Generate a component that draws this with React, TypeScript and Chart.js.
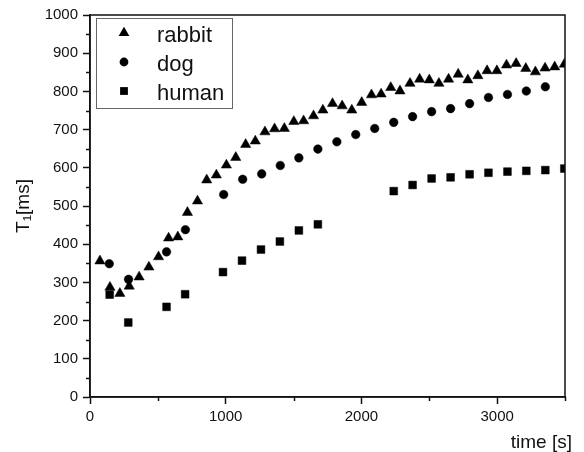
import React, { useEffect, useRef } from 'react';
import { Chart, registerables } from 'chart.js';

Chart.register(...registerables);

const FONT = "'Liberation Sans', Arial, Helvetica, sans-serif";

const rabbitTime = [73, 147, 220, 289, 362, 434, 505, 579, 647, 718, 792, 860, 931, 1005, 1074, 1147, 1218, 1289, 1360, 1432, 1502, 1574, 1647, 1716, 1787, 1858, 1929, 2002, 2074, 2145, 2216, 2284, 2358, 2429, 2500, 2571, 2642, 2713, 2784, 2858, 2926, 2998, 3069, 3140, 3211, 3282, 3353, 3424, 3495];
const rabbitT1 = [356, 287, 271, 290, 314, 340, 367, 416, 419, 483, 513, 568, 581, 607, 627, 661, 670, 694, 702, 703, 721, 723, 736, 751, 768, 762, 751, 771, 791, 793, 810, 801, 821, 832, 830, 821, 832, 845, 830, 841, 854, 854, 869, 873, 860, 851, 861, 864, 871];

const dogTime = [142, 284, 564, 703, 985, 1125, 1265, 1402, 1539, 1679, 1819, 1958, 2098, 2238, 2377, 2517, 2657, 2797, 2936, 3076, 3215, 3355];
const dogT1 = [349, 308, 380, 438, 530, 570, 584, 606, 626, 649, 668, 687, 703, 719, 734, 747, 755, 768, 784, 792, 801, 812];

const humanTime = [145, 282, 564, 701, 980, 1120, 1260, 1399, 1539, 1679, 2238, 2377, 2517, 2657, 2797, 2936, 3076, 3215, 3355, 3495];
const humanT1 = [268, 195, 236, 269, 327, 357, 386, 407, 436, 452, 539, 555, 572, 575, 583, 587, 590, 592, 594, 598];

const seriesLabels = ['rabbit', 'dog', 'human'];
const xTickLabels = [0, 1000, 2000, 3000];
const yTickLabels = [0, 100, 200, 300, 400, 500, 600, 700, 800, 900, 1000];
const xMinorTicks = [500, 1500, 2500, 3500];
const yMinorTicks = [50, 150, 250, 350, 450, 550, 650, 750, 850, 950];

const INK = '#111';

function drawMarker(ctx: CanvasRenderingContext2D, style: string, x: number, y: number) {
  ctx.beginPath();
  if (style === 'triangle') {
    const r = 6.2;
    ctx.moveTo(x, y - r);
    ctx.lineTo(x + r * Math.sin((2 * Math.PI) / 3), y + r / 2);
    ctx.lineTo(x - r * Math.sin((2 * Math.PI) / 3), y + r / 2);
    ctx.closePath();
  } else if (style === 'circle') {
    ctx.arc(x, y, 4.4, 0, Math.PI * 2);
  } else {
    ctx.rect(x - 3.9, y - 3.9, 7.8, 7.8);
  }
  ctx.fillStyle = '#000';
  ctx.fill();
}

const framePlugin = {
  id: 'frame',
  afterDraw(chart: any) {
    const { ctx, chartArea, scales } = chart;
    ctx.save();
    ctx.strokeStyle = INK;
    ctx.lineWidth = 1.5;
    ctx.strokeRect(chartArea.left, chartArea.top, chartArea.right - chartArea.left, chartArea.bottom - chartArea.top);
    // minor ticks
    ctx.beginPath();
    for (const v of xMinorTicks) {
      const px = Math.round(scales.x.getPixelForValue(v)) + 0.5;
      ctx.moveTo(px, chartArea.bottom);
      ctx.lineTo(px, chartArea.bottom + 4);
    }
    for (const v of yMinorTicks) {
      const py = Math.round(scales.y.getPixelForValue(v)) + 0.5;
      ctx.moveTo(chartArea.left, py);
      ctx.lineTo(chartArea.left - 4, py);
    }
    ctx.stroke();

    // legend
    const bx = chartArea.left + 6;
    const by = chartArea.top + 3;
    ctx.strokeStyle = '#666';
    ctx.lineWidth = 1;
    ctx.strokeRect(bx + 0.5, by + 0.5, 136, 90);
    chart.data.datasets.forEach((ds: any, i: number) => {
      const cy = by + 15 + i * 29;
      drawMarker(ctx, ds.pointStyle, bx + 28, cy);
      ctx.fillStyle = INK;
      ctx.font = `22px ${FONT}`;
      ctx.textAlign = 'left';
      ctx.textBaseline = 'alphabetic';
      ctx.fillText(seriesLabels[i], bx + 61, cy + 9);
    });
    ctx.restore();
  },
};

export default function App() {
  const ref = useRef<HTMLCanvasElement>(null);

  useEffect(() => {
    const canvas = ref.current;
    if (!canvas) return;
    const mk = (xs: number[], ys: number[]) => xs.map((x, i) => ({ x, y: ys[i] }));
    const chart = new Chart(canvas, {
      type: 'scatter',
      data: {
        datasets: [
          {
            label: seriesLabels[0],
            data: mk(rabbitTime, rabbitT1),
            pointStyle: 'triangle',
            pointRadius: 5.9,
            backgroundColor: '#000',
            borderColor: '#000',
            borderWidth: 0.5,
            clip: 0,
          },
          {
            label: seriesLabels[1],
            data: mk(dogTime, dogT1),
            pointStyle: 'circle',
            pointRadius: 4.3,
            backgroundColor: '#000',
            borderColor: '#000',
            borderWidth: 0.5,
            clip: 0,
          },
          {
            label: seriesLabels[2],
            data: mk(humanTime, humanT1),
            pointStyle: 'rect',
            pointRadius: 5.5,
            backgroundColor: '#000',
            borderColor: '#000',
            borderWidth: 0.5,
            clip: 0,
          },
        ],
      },
      options: {
        animation: false,
        responsive: false,
        maintainAspectRatio: false,
        devicePixelRatio: 1,
        layout: { padding: { left: 0, top: 15, right: 12, bottom: 0 } },
        plugins: {
          legend: { display: false },
          tooltip: { enabled: false },
          title: {
            display: true,
            text: 'time [s]',
            position: 'bottom',
            align: 'end',
            color: INK,
            font: { family: FONT, size: 19, weight: 'normal', lineHeight: 1 },
            padding: { top: 0, bottom: 0 },
          },
        },
        scales: {
          x: {
            type: 'linear',
            position: 'bottom',
            min: 0,
            max: 3500,
            ticks: {
              stepSize: 500,
              autoSkip: false,
              maxRotation: 0,
              padding: 4,
              color: INK,
              font: { family: FONT, size: 15 },
              callback: (v: any) => (xTickLabels.includes(Number(v)) ? String(v) : ''),
            },
            grid: {
              drawOnChartArea: false,
              drawTicks: true,
              tickLength: 7,
              tickWidth: 1.5,
              tickColor: (c: any) => (c.tick && xTickLabels.includes(c.tick.value) ? INK : 'rgba(0,0,0,0)'),
            },
            border: { color: INK, width: 1.5 },
            afterFit: (s: any) => {
              s.height = 36;
            },
          },
          y: {
            type: 'linear',
            position: 'left',
            min: 0,
            max: 1000,
            ticks: {
              stepSize: 50,
              autoSkip: false,
              padding: 5,
              color: INK,
              font: { family: FONT, size: 15 },
              callback: (v: any) => (yTickLabels.includes(Number(v)) ? String(v) : ''),
            },
            grid: {
              drawOnChartArea: false,
              drawTicks: true,
              tickLength: 7,
              tickWidth: 1.5,
              tickColor: (c: any) => (c.tick && yTickLabels.includes(c.tick.value) ? INK : 'rgba(0,0,0,0)'),
            },
            border: { color: INK, width: 1.5 },
            title: {
              display: true,
              text: 'T\u2081[ms]',
              color: INK,
              font: { family: FONT, size: 19, weight: 'normal', lineHeight: 1 },
              padding: { top: 14, bottom: 0 },
            },
            afterFit: (s: any) => {
              s.width = 90;
            },
          },
          y2: {
            type: 'linear',
            position: 'right',
            display: true,
            ticks: { display: false },
            grid: { display: false, drawTicks: false },
            border: { display: false },
            afterFit: (s: any) => {
              s.width = 7;
            },
          },
        },
      },
      plugins: [framePlugin],
    } as any);
    return () => chart.destroy();
  }, []);

  return (
    <div style={{ position: 'fixed', left: 0, top: 0, width: 584, height: 452, background: '#fff' }}>
      <canvas ref={ref} width={584} height={452} style={{ display: 'block', width: 584, height: 452 }} />
    </div>
  );
}
